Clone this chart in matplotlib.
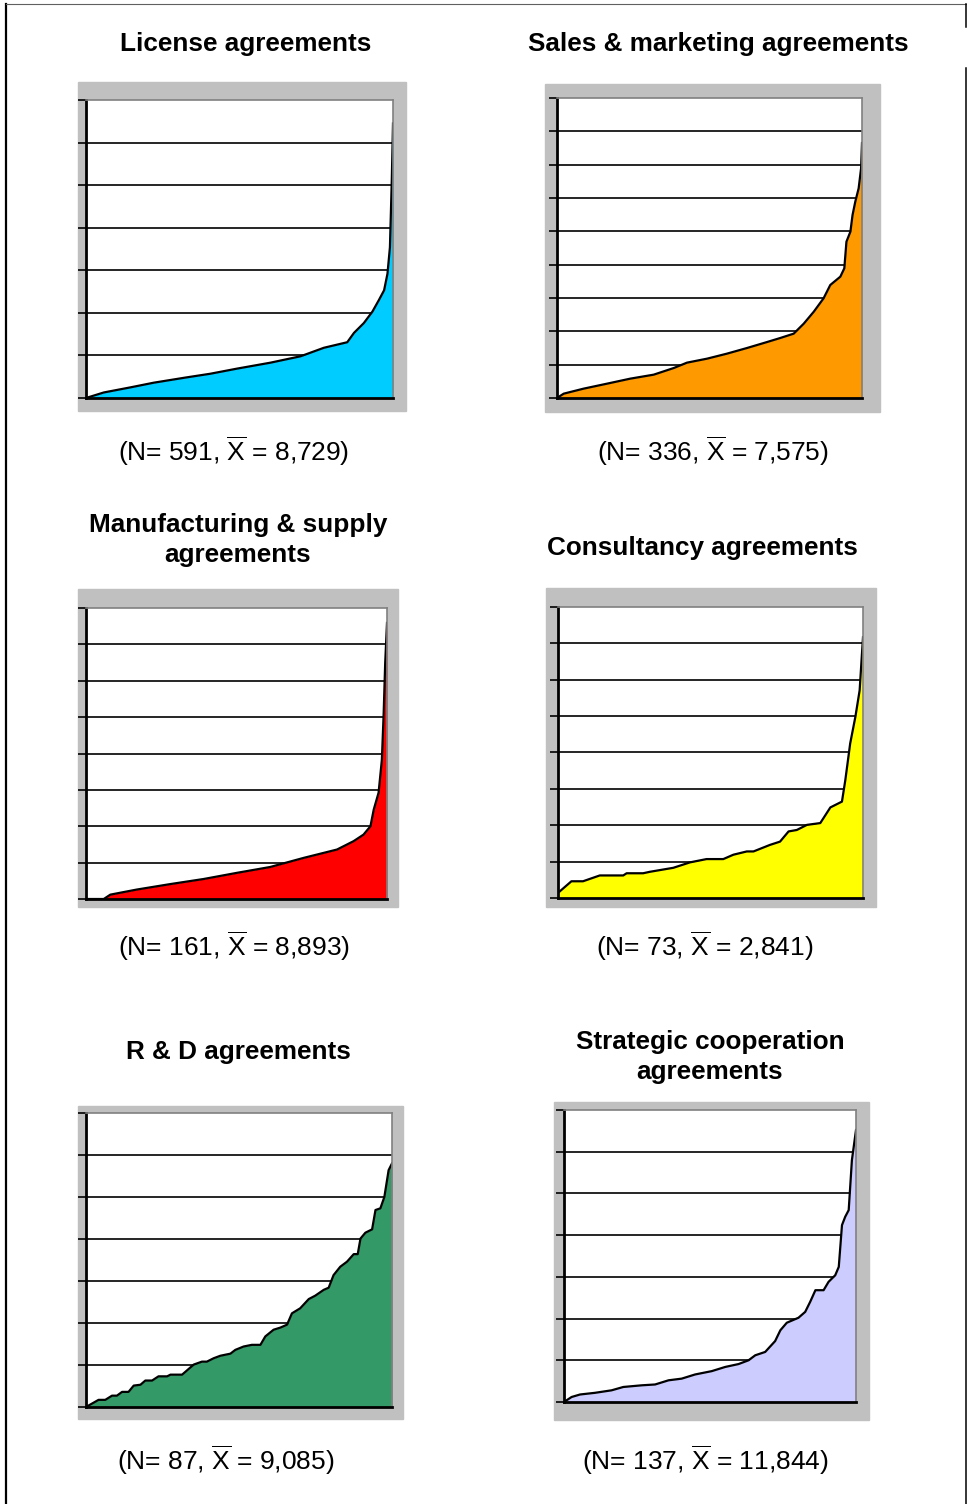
import matplotlib
matplotlib.use("Agg")
import matplotlib.pyplot as plt
from matplotlib.patches import Rectangle
from matplotlib.lines import Line2D

plt.rcParams['font.family'] = ['Liberation Sans', 'DejaVu Sans']
plt.rcParams['mathtext.fontset'] = 'custom'
plt.rcParams['mathtext.rm'] = 'Liberation Sans'
plt.rcParams['mathtext.it'] = 'Liberation Sans:italic'
plt.rcParams['mathtext.bf'] = 'Liberation Sans:bold'

W, H = 967, 1504

# --- data: share of agreements (%) vs value, in grid units ---
license_pct = [0, 5.8, 14.5, 22.1, 32.4, 40.5, 49.2, 60.1, 69.9, 77.5, 85.1, 87.3, 90.5,
               93.3, 95.4, 97.1, 98.2, 99.0, 99.6, 100]
license_val = [0, 0.13, 0.25, 0.36, 0.48, 0.57, 0.69, 0.83, 0.98, 1.18, 1.31, 1.53, 1.76,
               2.03, 2.3, 2.53, 2.92, 3.54, 5.1, 6.45]

sales_pct = [0, 2.2, 8.7, 16.4, 24.0, 31.7, 38.3, 42.6, 49.2, 55.7, 62.3, 68.9, 73.2, 77.6,
             80.9, 84.2, 87.4, 89.6, 92.9, 94.2, 94.9, 96.2, 96.9, 97.8, 98.9, 99.7, 100]
sales_val = [0, 0.13, 0.28, 0.43, 0.58, 0.7, 0.9, 1.06, 1.18, 1.33, 1.5, 1.68, 1.8, 1.93,
             2.23, 2.59, 2.99, 3.39, 3.64, 3.89, 4.69, 4.99, 5.49, 5.89, 6.29, 6.89, 7.65]

manuf_pct = [0, 5.9, 8.1, 16.9, 28.0, 39.1, 50.2, 61.2, 72.3, 83.4, 88.9, 92.2, 94.5, 95.6,
             97.2, 98.3, 98.9, 99.4, 100]
manuf_val = [0, 0, 0.12, 0.26, 0.41, 0.55, 0.72, 0.88, 1.13, 1.36, 1.59, 1.77, 2.0, 2.46,
             2.92, 3.83, 5.12, 6.49, 7.59]

consult_pct = [0, 4.4, 8.2, 13.7, 21.4, 22.5, 27.9, 30.1, 37.8, 43.3, 48.7, 54.2, 57.5, 61.9,
               64.1, 69.5, 72.8, 75.6, 78.3, 81.6, 86.0, 89.3, 93.1, 94.2, 95.8, 97.5, 98.9, 100]
consult_val = [0.14, 0.46, 0.46, 0.62, 0.62, 0.68, 0.68, 0.72, 0.83, 0.98, 1.07, 1.07, 1.19, 1.28,
               1.28, 1.46, 1.55, 1.83, 1.87, 2.01, 2.06, 2.49, 2.65, 3.24, 4.25, 4.98, 5.71, 7.17]

rd_pct = [0, 4.1, 6.3, 8.5, 10.1, 11.8, 13.9, 15.6, 17.8, 19.4, 21.6, 23.7, 26.5, 27.6, 31.4,
          35.2, 37.9, 39.5, 41.7, 43.9, 47.2, 48.8, 51.5, 54.2, 57.0, 58.6, 61.3, 63.5, 65.7,
          67.3, 70.0, 72.8, 74.9, 77.7, 79.3, 80.9, 83.1, 85.3, 87.5, 88.8, 89.7, 91.3, 93.5,
          94.6, 96.2, 97.5, 98.9, 100]
rd_val = [0, 0.17, 0.17, 0.27, 0.27, 0.36, 0.36, 0.51, 0.53, 0.63, 0.63, 0.73, 0.73, 0.77, 0.77,
          1.01, 1.08, 1.08, 1.16, 1.22, 1.27, 1.36, 1.44, 1.48, 1.48, 1.68, 1.84, 1.89, 1.96,
          2.23, 2.35, 2.57, 2.65, 2.79, 2.84, 3.14, 3.34, 3.46, 3.64, 3.64, 4.01, 4.15, 4.23,
          4.69, 4.73, 5.0, 5.64, 5.80]

strat_pct = [0, 2.6, 5.5, 10.6, 16.3, 20.3, 26.6, 31.2, 35.8, 40.3, 44.9, 50.6, 55.2, 59.8,
             63.2, 65.5, 68.9, 72.3, 74.1, 76.3, 80.3, 82.6, 84.3, 86.1, 88.9, 90.6, 92.9,
             94.1, 95.2, 96.3, 97.5, 98.6, 100]
strat_val = [0, 0.12, 0.18, 0.22, 0.28, 0.36, 0.4, 0.42, 0.52, 0.56, 0.66, 0.74, 0.84, 0.91,
             1.0, 1.12, 1.2, 1.46, 1.72, 1.9, 2.02, 2.16, 2.4, 2.68, 2.68, 2.88, 3.04,
             3.24, 4.24, 4.44, 4.6, 5.8, 6.52]

titles = ["License agreements", "Sales & marketing agreements",
          "Manufacturing & supply\nagreements", "Consultancy agreements",
          "R & D agreements", "Strategic cooperation\nagreements"]
n_values = [591, 336, 161, 73, 87, 137]
means = ["8,729", "7,575", "8,893", "2,841", "9,085", "11,844"]
colors = ["#00ccff", "#ff9900", "#ff0000", "#ffff00", "#339966", "#ccccff"]
ymax = [7, 9, 8, 8, 7, 7]
series = [(license_pct, license_val), (sales_pct, sales_val), (manuf_pct, manuf_val),
          (consult_pct, consult_val), (rd_pct, rd_val), (strat_pct, strat_val)]

# layout in pixels: gray frame, plot area, title centre, caption centre
frames = [(78, 82, 406, 411), (545, 84, 880, 412), (78, 589, 398, 907),
          (546, 588, 876, 907), (78, 1106, 403, 1419), (554, 1102, 869, 1420)]
plots = [(86, 100, 393, 398), (557, 98, 862, 398), (86, 608, 387, 899),
         (558, 607, 863, 898), (86, 1113, 392, 1407), (564, 1110, 856, 1402)]
title_xy = [(246, 44), (718, 44), (238, 540), (702, 548), (238, 1052), (710, 1057)]
cap_xy = [(234, 451), (713, 451), (234, 946), (705, 946), (226, 1460), (705, 1460)]


def rect(l, t, r, b):
    return [l / W, 1 - b / H, (r - l) / W, (b - t) / H]


fig = plt.figure(figsize=(W / 100, H / 100), dpi=100)

for i in range(6):
    l, t, r, b = frames[i]
    fig.add_artist(Rectangle((l / W, 1 - b / H), (r - l) / W, (b - t) / H,
                             transform=fig.transFigure, color="#c0c0c0", zorder=0))
    ax = fig.add_axes(rect(*plots[i]))
    ax.set_facecolor("white")
    pct, val = series[i]
    for k in range(1, ymax[i]):
        ax.axhline(k, color="black", lw=1.2, zorder=1)
    ax.fill_between(pct, val, 0, color=colors[i], lw=0, zorder=2)
    ax.plot(pct, val, color="black", lw=1.6, zorder=3, solid_joinstyle="round")
    ax.set_xlim(0, 100)
    ax.set_ylim(0, ymax[i])
    ax.set_xticks([])
    ax.set_yticks(range(0, ymax[i] + 1))
    ax.set_yticklabels([])
    ax.tick_params(axis="y", direction="out", length=5.8, width=1.2, color="black")
    ax.spines["left"].set_linewidth(2)
    ax.spines["bottom"].set_linewidth(2)
    ax.spines["top"].set_color("#808080")
    ax.spines["right"].set_color("#808080")
    ax.spines["top"].set_linewidth(1.2)
    ax.spines["right"].set_linewidth(1.2)
    for s in ax.spines.values():
        s.set_zorder(4)

    tx, ty = title_xy[i]
    fig.text(tx / W, 1 - ty / H, titles[i], ha="center", va="center",
             fontsize=18.8, fontweight="bold", linespacing=1.36)
    cx, cy = cap_xy[i]
    fig.text(cx / W, 1 - cy / H,
             r"(N= %d, $\overline{\mathrm{X}}$ = %s)" % (n_values[i], means[i]),
             ha="center", va="center", fontsize=19)

# page border
fig.add_artist(Line2D([6 / W, 6 / W], [1 - 4 / H, 0], transform=fig.transFigure,
                      color="black", lw=1.6))
fig.add_artist(Line2D([6 / W, 966 / W], [1 - 4 / H, 1 - 4 / H], transform=fig.transFigure,
                      color="#606060", lw=0.8))
fig.add_artist(Line2D([966 / W, 966 / W], [1 - 4 / H, 1 - 27 / H], transform=fig.transFigure,
                      color="black", lw=1.1))
fig.add_artist(Line2D([966 / W, 966 / W], [1 - 68 / H, 0], transform=fig.transFigure,
                      color="black", lw=1.1))

fig.savefig("out.png", dpi=100)
